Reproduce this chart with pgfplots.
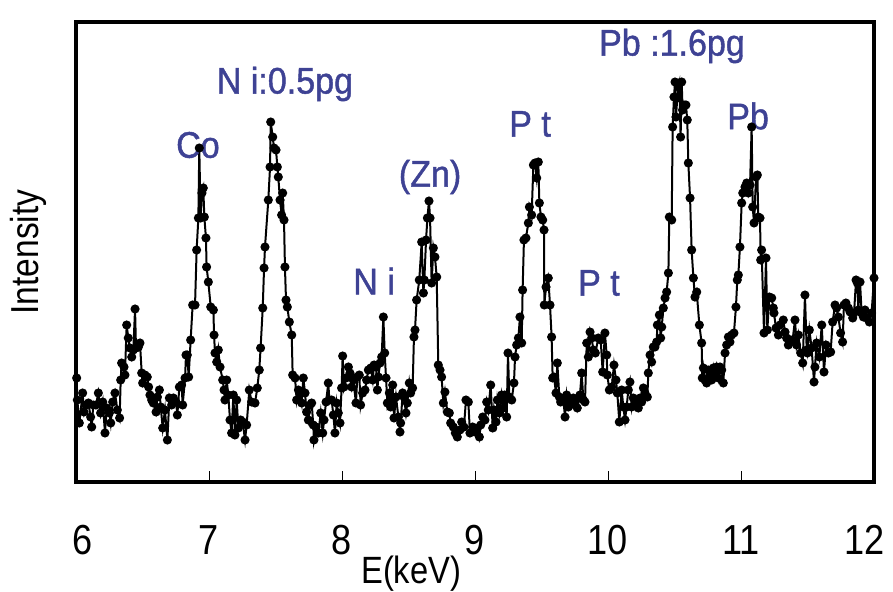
\documentclass[border=0pt]{standalone}
\usepackage{pgfplots}
\pgfplotsset{compat=1.18}
\usepackage{fontspec}
\setmainfont{Liberation Sans}
\newfontfamily\narrowfont[FakeStretch=0.86]{Liberation Sans}
\newfontfamily\lblfont[FakeStretch=0.92,FakeBold=1.2]{Liberation Sans}
\definecolor{lblue}{RGB}{62,66,148}
\pgfplotstableread{
E I
6.005 104
6.010 82
6.025 59
6.050 89
6.060 70
6.075 77
6.093 79
6.110 65
6.118 55
6.130 77
6.150 77
6.168 89
6.185 69
6.201 80
6.218 49
6.231 74
6.251 69
6.261 59
6.276 80
6.293 89
6.311 72
6.328 64
6.336 102
6.343 119
6.361 115
6.368 107
6.381 157
6.393 144
6.406 134
6.419 125
6.431 132
6.444 173
6.451 134
6.469 135
6.481 139
6.494 109
6.501 99
6.519 107
6.536 105
6.546 95
6.556 87
6.569 82
6.581 79
6.602 70
6.612 85
6.627 92
6.637 75
6.652 54
6.669 72
6.687 42
6.702 84
6.719 77
6.732 84
6.752 80
6.762 67
6.777 95
6.794 97
6.802 77
6.820 104
6.827 127
6.837 127
6.847 105
6.862 142
6.877 177
6.895 177
6.907 232
6.920 264
6.927 334
6.937 264
6.947 289
6.957 294
6.965 265
6.977 244
6.982 215
6.995 200
7.013 175
7.033 172
7.038 147
7.045 129
7.058 120
7.070 132
7.083 115
7.103 102
7.113 92
7.120 82
7.133 102
7.145 87
7.158 62
7.170 49
7.183 87
7.195 47
7.208 82
7.221 54
7.238 62
7.253 60
7.271 42
7.283 57
7.303 92
7.321 80
7.346 79
7.363 94
7.378 112
7.388 134
7.404 174
7.414 214
7.421 235
7.446 282
7.459 315
7.464 360
7.479 345
7.489 334
7.504 332
7.514 315
7.521 305
7.534 282
7.546 267
7.554 289
7.564 262
7.571 215
7.579 182
7.589 175
7.604 160
7.622 147
7.629 107
7.647 104
7.659 82
7.672 92
7.684 89
7.697 79
7.709 104
7.722 89
7.734 70
7.747 62
7.759 77
7.772 79
7.784 57
7.789 42
7.805 55
7.822 49
7.840 69
7.855 49
7.865 62
7.880 80
7.897 99
7.905 82
7.922 82
7.935 67
7.947 49
7.960 79
7.972 69
7.985 59
7.997 94
8.005 126
8.015 95
8.030 104
8.048 115
8.060 109
8.073 95
8.085 102
8.105 79
8.115 105
8.130 107
8.140 77
8.155 89
8.173 92
8.185 102
8.198 112
8.216 114
8.231 102
8.241 117
8.256 115
8.266 92
8.273 105
8.286 119
8.298 125
8.311 165
8.321 129
8.331 104
8.341 79
8.356 89
8.366 75
8.381 97
8.391 64
8.406 85
8.424 65
8.436 50
8.441 59
8.456 89
8.466 85
8.481 69
8.491 79
8.506 99
8.516 89
8.531 94
8.541 145
8.549 152
8.561 182
8.581 202
8.599 240
8.612 189
8.619 202
8.632 242
8.642 264
8.654 281
8.662 264
8.674 199
8.687 234
8.699 225
8.712 205
8.724 117
8.737 112
8.749 105
8.762 79
8.774 90
8.792 70
8.807 69
8.817 59
8.837 55
8.852 49
8.867 45
8.887 52
8.900 60
8.917 55
8.932 82
8.950 80
8.962 49
8.982 55
9.000 50
9.018 54
9.033 45
9.043 57
9.058 65
9.075 62
9.088 80
9.100 72
9.118 97
9.133 54
9.143 72
9.158 60
9.168 82
9.183 69
9.200 87
9.213 74
9.223 87
9.238 65
9.248 129
9.258 85
9.276 82
9.293 99
9.301 125
9.313 137
9.326 144
9.338 165
9.351 139
9.358 192
9.368 242
9.383 244
9.401 259
9.409 275
9.426 267
9.439 317
9.451 319
9.464 304
9.476 320
9.484 279
9.496 265
9.509 262
9.519 252
9.521 177
9.534 195
9.551 204
9.564 177
9.576 145
9.584 104
9.594 105
9.609 89
9.619 119
9.634 85
9.644 80
9.664 82
9.677 65
9.689 87
9.702 75
9.719 82
9.739 84
9.752 77
9.759 82
9.769 74
9.789 87
9.802 109
9.815 82
9.827 80
9.840 139
9.852 125
9.865 150
9.877 144
9.890 132
9.905 129
9.927 144
9.945 142
9.960 110
9.977 149
9.990 127
9.995 107
10.010 92
10.028 95
10.045 117
10.060 102
10.070 89
10.085 60
10.103 92
10.115 75
10.128 62
10.140 75
10.153 92
10.165 100
10.178 75
10.190 84
10.203 82
10.216 79
10.228 74
10.241 84
10.253 80
10.266 94
10.278 89
10.296 85
10.303 109
10.316 127
10.328 120
10.341 135
10.353 135
10.366 140
10.371 157
10.386 167
10.396 144
10.404 155
10.416 174
10.429 184
10.441 190
10.454 209
10.461 265
10.479 262
10.486 355
10.496 385
10.504 400
10.511 365
10.521 384
10.529 395
10.536 399
10.546 345
10.554 400
10.561 372
10.571 377
10.586 377
10.596 362
10.604 319
10.617 284
10.629 232
10.642 204
10.654 185
10.667 190
10.687 157
10.704 139
10.709 104
10.717 114
10.729 102
10.742 99
10.754 112
10.767 107
10.779 102
10.792 114
10.804 105
10.817 115
10.830 104
10.842 115
10.855 112
10.867 99
10.880 129
10.892 137
10.905 145
10.917 140
10.930 147
10.947 149
10.962 175
10.972 202
10.980 207
10.992 235
11.005 279
11.013 289
11.030 295
11.043 299
11.055 289
11.068 297
11.080 355
11.088 275
11.098 259
11.113 305
11.123 307
11.130 265
11.143 264
11.148 222
11.155 232
11.173 149
11.188 224
11.198 152
11.213 185
11.231 184
11.243 174
11.248 169
11.263 154
11.281 147
11.293 157
11.318 162
11.331 150
11.343 144
11.356 137
11.373 142
11.388 142
11.406 162
11.418 137
11.431 147
11.449 129
11.464 119
11.481 187
11.494 132
11.499 129
11.514 152
11.531 134
11.549 100
11.556 115
11.569 139
11.589 125
11.607 157
11.624 110
11.639 137
11.657 129
11.674 130
11.689 160
11.707 177
11.719 174
11.732 165
11.749 149
11.764 140
11.774 177
11.789 179
11.807 174
11.820 170
11.840 164
11.850 169
11.865 202
11.875 199
11.882 172
11.895 200
11.907 169
11.920 165
11.932 172
11.945 164
11.965 160
11.982 169
12.000 204
}\spectrum
\begin{document}
\begin{tikzpicture}
\begin{axis}[
  scale only axis,
  width=798pt, height=460pt,
  xmin=6, xmax=12, ymin=0, ymax=460,
  xtick={6,7,8,9,10,11,12},
  xticklabels={{\kern14pt 6},7,8,9,10,11,{12\kern18pt}},
  xtick pos=lower,
  xtick align=inside,
  major tick length=11pt,
  ytick=\empty,
  axis line style={line width=3.5pt},
  every tick/.style={black, line width=0.8pt},
  /pgf/number format/assume math mode=true,
  xticklabel style={font=\narrowfont\fontsize{42}{44}\selectfont, anchor=center, yshift=-58pt},
  xlabel={E(keV)},
  xlabel style={font=\narrowfont\fontsize{38}{40}\selectfont, at={(axis description cs:0.42,-0.2)}, anchor=center},
  ylabel={Intensity},
  ylabel style={font=\narrowfont\fontsize{39}{41}\selectfont, at={(axis description cs:-0.06,0.5)}, anchor=center},
  clip=false,
]
\addplot[black, line width=2pt, mark=*, mark size=3.5pt, mark options={solid, fill=black}] table[x=E, y=I] {\spectrum};
\begin{scope}[every node/.style={text=lblue, font=\lblfont\fontsize{37}{39}\selectfont, anchor=center}]
\node at (axis cs:6.917,337) {Co};
\node at (axis cs:7.571,398) {N i:0.5pg};
\node at (axis cs:8.662,305) {(Zn)};
\node at (axis cs:8.241,201) {N i};
\node at (axis cs:9.414,358) {P t};
\node at (axis cs:9.932,199) {P t};
\node at (axis cs:10.481,436) {Pb :1.6pg};
\node at (axis cs:11.053,366) {Pb};
\end{scope}
\end{axis}
\pgfresetboundingbox
\path (-76pt,-109pt) rectangle (817pt,482pt);
\end{tikzpicture}
\end{document}
